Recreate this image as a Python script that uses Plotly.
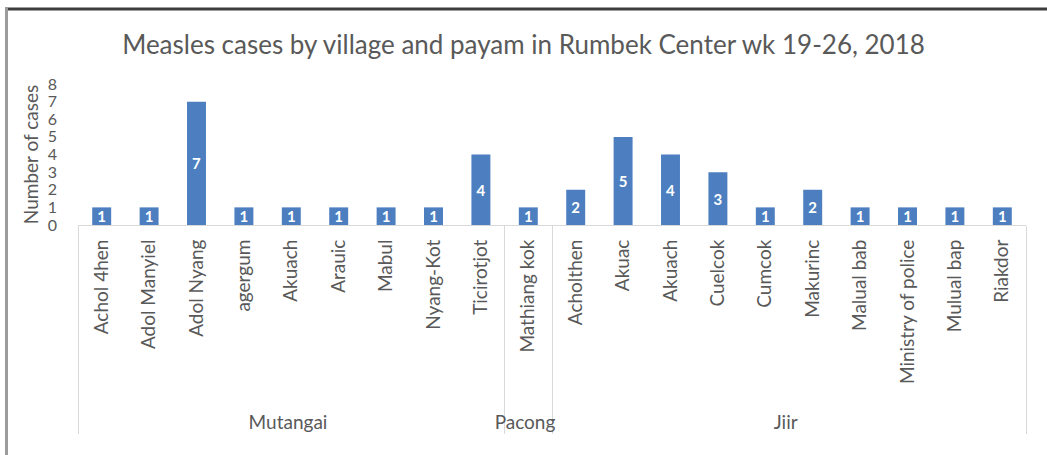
import plotly.graph_objects as go

# Measles cases per village, grouped by payam
payams = ["Mutangai"] * 9 + ["Pacong"] + ["Jiir"] * 10
villages = [
    "Achol 4hen", "Adol Manyiel", "Adol Nyang", "agergum", "Akuach", "Arauic",
    "Mabul", "Nyang-Kot", "Ticirotjot",
    "Mathiang kok",
    "Acholthen", "Akuac", "Akuach", "Cuelcok", "Cumcok", "Makurinc",
    "Malual bab", "Ministry of police", "Mulual bap", "Riakdor",
]
cases = [1, 1, 7, 1, 1, 1, 1, 1, 4, 1, 2, 5, 4, 3, 1, 2, 1, 1, 1, 1]
y_ticks = [0, 1, 2, 3, 4, 5, 6, 7, 8]

FONT = "Lato"
GREY = "#595959"
BAR = "#4d7fc0"

W, H = 1047, 455
L, R, T, B = 78, 21, 84, 230

# Plotly merges identical inner labels across groups; the Jiir "Akuach"
# gets a zero-width space so it keeps its own slot after "Akuac".
# The longest label gets a little non-breaking padding at its start, which
# leaves a wider gap above the payam row.
longest = max(villages, key=len)
seen = set()
x_inner = []
for p, v in zip(payams, villages):
    key = v
    while key in seen:
        key += "\u200b"
    seen.add(key)
    if v == longest:
        key = "\u00a0\u00a0\u00a0" + key
    x_inner.append(key)

fig = go.Figure(
    go.Bar(
        x=[payams, x_inner],
        y=cases,
        marker=dict(color=BAR, line=dict(width=0)),
        text=[str(v) for v in cases],
        textposition="inside",
        insidetextanchor="middle",
        textangle=0,
        constraintext="none",
        textfont=dict(family=FONT, size=15, color="white", weight="bold"),
        hoverinfo="skip",
    )
)

# frame lines along the top and left edge of the page
pw, ph = W - L - R, H - T - B
def px_x(p):
    return (p - L) / pw
def px_y(p):
    return (H - B - p) / ph

fig.add_shape(type="line", xref="paper", yref="paper",
              x0=px_x(5), x1=px_x(W + 5), y0=px_y(9), y1=px_y(9),
              line=dict(color="#3c3c3c", width=3))
fig.add_shape(type="line", xref="paper", yref="paper",
              x0=px_x(6.5), x1=px_x(6.5), y0=px_y(8), y1=px_y(H + 5),
              line=dict(color="#9c9c9c", width=3))

fig.update_layout(
    width=W, height=H,
    margin=dict(l=L, r=R, t=T, b=B, autoexpand=False),
    paper_bgcolor="white",
    plot_bgcolor="white",
    showlegend=False,
    bargap=0.6,
    font=dict(family=FONT, color=GREY),
    title=dict(
        text="Measles cases by village and payam in Rumbek Center wk 19-26, 2018",
        x=0.5, xanchor="center", y=1 - 45 / H, yanchor="middle",
        font=dict(family=FONT, size=26, color=GREY),
    ),
)

fig.update_xaxes(
    type="multicategory",
    tickangle=-90,
    tickfont=dict(family=FONT, size=19, color=GREY),
    ticks="", ticklabelstandoff=6,
    showline=True, linecolor="#d9d9d9", linewidth=1,
    showdividers=True, dividercolor="#d9d9d9", dividerwidth=1,
    showgrid=False, zeroline=False,
)
fig.update_yaxes(
    range=[0, 8],
    tickvals=y_ticks,
    tickfont=dict(family=FONT, size=16, color=GREY),
    showgrid=False, zeroline=False, showline=False,
    ticks="", ticklabelstandoff=20,
    title=dict(text="Number of cases", font=dict(family=FONT, size=19, color=GREY), standoff=4),
)

fig.write_html("out.html")
